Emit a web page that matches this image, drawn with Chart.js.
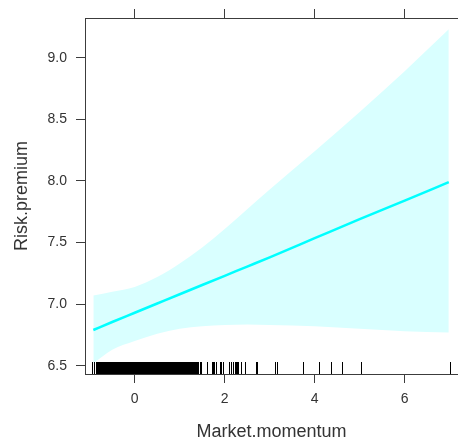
<!DOCTYPE html>
<html lang="en">
<head>
    <meta charset="UTF-8">
    <title>Risk.premium vs Market.momentum</title>
    <script src="https://cdn.jsdelivr.net/npm/chart.js"></script> <!-- Chart.js -->
    <style>
        body { margin: 0; background: #ffffff; overflow: hidden; }
        #effectChart { display: block; }
    </style>
</head>
<body>
    <canvas id="effectChart" width="458" height="443"></canvas>

    <script>
        // Datos
        const fitX = [-0.92, -0.5, 0, 0.5, 1, 1.5, 2, 2.5, 3, 4, 5, 6, 6.98];
        const fitY = [6.79, 6.855, 6.93, 7.005, 7.08, 7.155, 7.23, 7.305, 7.38, 7.535, 7.69, 7.84, 7.99];
        const bandUpper = [7.07, 7.10, 7.14, 7.22, 7.33, 7.46, 7.61, 7.77, 7.93, 8.24, 8.56, 8.89, 9.23];
        const bandLower = [6.52, 6.63, 6.70, 6.76, 6.80, 6.82, 6.83, 6.835, 6.83, 6.82, 6.80, 6.78, 6.77];

        // Marcas del rug (observaciones de Market.momentum)
        const rugValues = [
            -0.94, -0.91,
            -0.86, -0.84, -0.82, -0.80, -0.78, -0.76, -0.74, -0.72, -0.70, -0.68, -0.66, -0.64, -0.62, -0.60,
            -0.58, -0.56, -0.54, -0.52, -0.50, -0.48, -0.46, -0.44, -0.42, -0.40, -0.38, -0.36, -0.34, -0.32,
            -0.30, -0.28, -0.26, -0.24, -0.22, -0.20, -0.18, -0.16, -0.14, -0.12, -0.10, -0.08, -0.06, -0.04,
            -0.02, 0.00, 0.02, 0.04, 0.06, 0.08, 0.10, 0.12, 0.14, 0.16, 0.18, 0.20, 0.22, 0.24, 0.26, 0.28,
            0.30, 0.32, 0.34, 0.36, 0.38, 0.40, 0.42, 0.44, 0.46, 0.48, 0.50, 0.52, 0.54, 0.56, 0.58, 0.60,
            0.62, 0.64, 0.66, 0.68, 0.70, 0.72, 0.74, 0.76, 0.78, 0.80, 0.82, 0.84, 0.86, 0.88, 0.90, 0.92,
            0.94, 0.96, 0.98, 1.00, 1.02, 1.04, 1.06, 1.08, 1.10, 1.12, 1.14, 1.16, 1.18, 1.20, 1.22, 1.24,
            1.26, 1.28, 1.30, 1.32, 1.34, 1.36, 1.38, 1.40,
            1.44, 1.48, 1.60, 1.71, 1.74, 1.77, 1.81, 1.90, 1.92, 1.96,
            2.10, 2.14, 2.19, 2.22, 2.25, 2.28, 2.30, 2.36, 2.45, 2.70, 2.72,
            3.12, 3.16, 3.75, 4.10, 4.36, 4.60, 5.04, 7.00
        ];

        const xTicks = [0, 2, 4, 6];
        const yTicks = [6.5, 7.0, 7.5, 8.0, 8.5, 9.0];

        const axisColor = '#3c3c3c';
        const textColor = '#333333';
        const fontFamily = '"Liberation Sans", Arial, sans-serif';

        function toPoints(xs, ys) {
            return xs.map((x, i) => ({ x: x, y: ys[i] }));
        }

        // Plugin para dibujar el rug sobre el eje x
        const rugPlugin = {
            id: 'rug',
            afterDatasetsDraw(chart) {
                const ctx = chart.ctx;
                const xScale = chart.scales.x;
                const bottom = chart.chartArea.bottom;
                ctx.save();
                ctx.strokeStyle = '#000000';
                ctx.lineWidth = 1;
                ctx.beginPath();
                rugValues.forEach(v => {
                    const px = Math.round(xScale.getPixelForValue(v)) + 0.5;
                    ctx.moveTo(px, bottom);
                    ctx.lineTo(px, bottom - 12);
                });
                ctx.stroke();
                ctx.restore();
            }
        };

        function fixedTicks(list) {
            return function (scale) {
                scale.ticks = list.map(v => ({ value: v }));
            };
        }

        document.addEventListener('DOMContentLoaded', () => {
            const ctx = document.getElementById('effectChart').getContext('2d');

            new Chart(ctx, {
                type: 'line',
                data: {
                    datasets: [
                        {
                            // linea del efecto, encima de la banda
                            label: 'fit',
                            data: toPoints(fitX, fitY),
                            borderColor: '#00ffff',
                            borderWidth: 2.5,
                            pointRadius: 0,
                            cubicInterpolationMode: 'monotone',
                            fill: false,
                            order: 0
                        },
                        {
                            label: 'lower',
                            data: toPoints(fitX, bandLower),
                            borderWidth: 0,
                            pointRadius: 0,
                            cubicInterpolationMode: 'monotone',
                            fill: false,
                            order: 1
                        },
                        {
                            label: 'upper',
                            data: toPoints(fitX, bandUpper),
                            borderWidth: 0,
                            pointRadius: 0,
                            cubicInterpolationMode: 'monotone',
                            backgroundColor: '#d9ffff',
                            fill: 1,
                            order: 2
                        }
                    ]
                },
                options: {
                    responsive: false,
                    animation: false,
                    layout: { padding: 0 },
                    plugins: {
                        legend: { display: false },
                        tooltip: { enabled: false }
                    },
                    scales: {
                        x: {
                            type: 'linear',
                            position: 'bottom',
                            min: -1.105,
                            max: 7.185,
                            afterBuildTicks: fixedTicks(xTicks),
                            afterFit: scale => { scale.height = 69; },
                            grid: { drawOnChartArea: false, tickLength: 9, color: axisColor },
                            border: { display: true, color: axisColor, width: 1 },
                            ticks: {
                                color: textColor,
                                padding: 8,
                                maxRotation: 0,
                                font: { family: fontFamily, size: 14 },
                                callback: v => String(v)
                            },
                            title: {
                                display: true,
                                text: 'Market.momentum',
                                color: textColor,
                                padding: { top: 0, bottom: 0 },
                                font: { family: fontFamily, size: 18 }
                            }
                        },
                        x2: {
                            type: 'linear',
                            position: 'top',
                            min: -1.105,
                            max: 7.185,
                            afterBuildTicks: fixedTicks(xTicks),
                            afterFit: scale => { scale.height = 18; },
                            grid: { drawOnChartArea: false, tickLength: 9, color: axisColor },
                            border: { display: true, color: axisColor, width: 1 },
                            ticks: { display: false }
                        },
                        y: {
                            type: 'linear',
                            position: 'left',
                            min: 6.433,
                            max: 9.322,
                            afterBuildTicks: fixedTicks(yTicks),
                            afterFit: scale => { scale.width = 85; },
                            grid: { drawOnChartArea: false, tickLength: 9, color: axisColor },
                            border: { display: true, color: axisColor, width: 1 },
                            ticks: {
                                color: textColor,
                                padding: 9,
                                font: { family: fontFamily, size: 14 },
                                callback: v => Number(v).toFixed(1)
                            },
                            title: {
                                display: true,
                                text: 'Risk.premium',
                                color: textColor,
                                padding: { top: 11, bottom: 0 },
                                font: { family: fontFamily, size: 18 }
                            }
                        }
                    }
                },
                plugins: [rugPlugin]
            });
        });
    </script>
</body>
</html>
